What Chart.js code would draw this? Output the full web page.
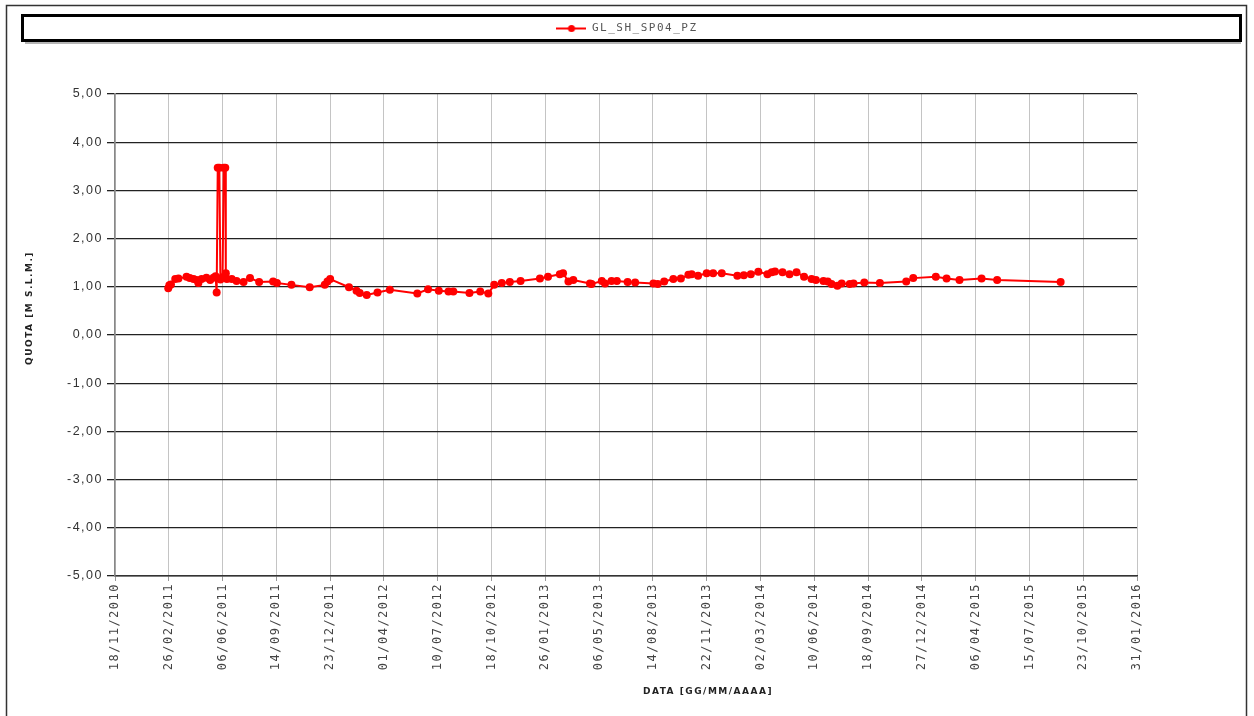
<!DOCTYPE html>
<html>
<head>
<meta charset="utf-8">
<title>GL_SH_SP04_PZ</title>
<script src="https://cdn.jsdelivr.net/npm/chart.js@4.4.1/dist/chart.umd.min.js"></script>
<style>
    html, body { margin: 0; padding: 0; background: #fff; }
    canvas { display: block; }
</style>
</head>
<body>
<canvas id="quotaChart" width="1254" height="716"></canvas>
<script>
// Series and axis data
var seriesName = 'GL_SH_SP04_PZ';
var xTitle = 'DATA [GG/MM/AAAA]';
var yTitle = 'QUOTA [M S.L.M.]';

var dates = [
    '2011-02-25', '2011-02-27', '2011-03-02', '2011-03-10', '2011-03-16', '2011-03-31', '2011-04-06', '2011-04-13',
    '2011-04-19', '2011-04-22', '2011-04-28', '2011-05-07', '2011-05-14', '2011-05-20', '2011-05-24', '2011-05-26',
    '2011-05-28', '2011-05-31', '2011-06-02', '2011-06-06', '2011-06-08', '2011-06-11', '2011-06-12', '2011-06-14',
    '2011-06-23', '2011-07-02', '2011-07-15', '2011-07-27', '2011-08-13', '2011-09-08', '2011-09-15', '2011-10-12',
    '2011-11-15', '2011-12-13', '2011-12-18', '2011-12-23', '2012-01-27', '2012-02-10', '2012-02-16', '2012-02-29',
    '2012-03-20', '2012-04-12', '2012-06-02', '2012-06-22', '2012-07-12', '2012-07-30', '2012-08-08', '2012-09-07',
    '2012-09-27', '2012-10-12', '2012-10-23', '2012-11-06', '2012-11-21', '2012-12-11', '2013-01-16', '2013-01-31',
    '2013-02-22', '2013-02-28', '2013-03-10', '2013-03-19', '2013-04-19', '2013-04-22', '2013-05-11', '2013-05-17',
    '2013-05-29', '2013-06-08', '2013-06-28', '2013-07-12', '2013-08-15', '2013-08-23', '2013-09-04', '2013-09-21',
    '2013-10-05', '2013-10-19', '2013-10-25', '2013-11-06', '2013-11-22', '2013-12-04', '2013-12-20', '2014-01-18',
    '2014-01-30', '2014-02-12', '2014-02-26', '2014-03-15', '2014-03-23', '2014-03-29', '2014-04-12', '2014-04-25',
    '2014-05-08', '2014-05-22', '2014-06-05', '2014-06-13', '2014-06-27', '2014-07-05', '2014-07-12', '2014-07-23',
    '2014-07-31', '2014-08-15', '2014-08-22', '2014-09-11', '2014-10-10', '2014-11-28', '2014-12-11', '2015-01-22',
    '2015-02-11', '2015-03-07', '2015-04-17', '2015-05-16', '2015-09-11'
];

var quota = [
    0.97, 1.03, 1.05, 1.16, 1.17, 1.21, 1.18, 1.16,
    1.14, 1.08, 1.16, 1.19, 1.14, 1.19, 1.22, 0.88,
    3.47, 3.47, 1.15, 1.20, 3.47, 3.47, 1.28, 1.16,
    1.16, 1.12, 1.10, 1.18, 1.10, 1.11, 1.08, 1.04,
    0.99, 1.04, 1.11, 1.16, 0.99, 0.92, 0.87, 0.83,
    0.88, 0.94, 0.86, 0.95, 0.92, 0.90, 0.90, 0.87,
    0.90, 0.86, 1.04, 1.08, 1.10, 1.12, 1.17, 1.21,
    1.26, 1.28, 1.11, 1.14, 1.07, 1.06, 1.12, 1.07,
    1.12, 1.12, 1.10, 1.09, 1.07, 1.06, 1.11, 1.16,
    1.17, 1.25, 1.26, 1.23, 1.28, 1.28, 1.28, 1.23,
    1.24, 1.26, 1.31, 1.26, 1.30, 1.32, 1.30, 1.26,
    1.30, 1.21, 1.16, 1.14, 1.12, 1.11, 1.06, 1.02,
    1.07, 1.06, 1.07, 1.09, 1.08, 1.11, 1.18, 1.21,
    1.17, 1.14, 1.17, 1.14, 1.10
];

var xTickLabels = [
    '18/11/2010', '26/02/2011', '06/06/2011', '14/09/2011', '23/12/2011', '01/04/2012', '10/07/2012',
    '18/10/2012', '26/01/2013', '06/05/2013', '14/08/2013', '22/11/2013', '02/03/2014', '10/06/2014',
    '18/09/2014', '27/12/2014', '06/04/2015', '15/07/2015', '23/10/2015', '31/01/2016'
];

var yTickValues = [-5, -4, -3, -2, -1, 0, 1, 2, 3, 4, 5];

// Day numbers (UTC) so the x axis can be a plain linear scale
function isoToDay(s) {
    var p = s.split('-');
    return Date.UTC(+p[0], +p[1] - 1, +p[2]) / 86400000;
}
function labelToDay(s) {
    var p = s.split('/');
    return Date.UTC(+p[2], +p[1] - 1, +p[0]) / 86400000;
}

var points = dates.map(function(d, i) {
    return { x: isoToDay(d), y: quota[i] };
});

// Legend marker: short red line with a dot
var legendMarker = document.createElement('canvas');
legendMarker.width = 30;
legendMarker.height = 9;
(function() {
    var c = legendMarker.getContext('2d');
    c.strokeStyle = '#ff0000';
    c.lineWidth = 2;
    c.beginPath();
    c.moveTo(0, 4.5);
    c.lineTo(30, 4.5);
    c.stroke();
    c.fillStyle = '#ff0000';
    c.beginPath();
    c.arc(15, 4.5, 3.5, 0, Math.PI * 2);
    c.fill();
})();

// Frames around the page and the legend, axis titles, wide letter spacing
var framePlugin = {
    id: 'frames',
    beforeUpdate: function(chart) {
        chart.ctx.letterSpacing = '1.5px';
    },
    beforeDraw: function(chart) {
        var ctx = chart.ctx;
        ctx.letterSpacing = '1.5px';
        ctx.save();
        ctx.strokeStyle = '#333';
        ctx.lineWidth = 1.5;
        ctx.strokeRect(6.5, 5.5, chart.width - 14, chart.height + 20);
        ctx.fillStyle = '#b5b5b5';
        ctx.fillRect(25, 42, chart.width - 38, 2);
        ctx.strokeStyle = '#000';
        ctx.lineWidth = 3;
        ctx.strokeRect(22.5, 15.5, chart.width - 36, 25);
        ctx.restore();
    },
    afterDraw: function(chart) {
        var ctx = chart.ctx;
        var area = chart.chartArea;
        ctx.save();
        ctx.fillStyle = '#222';
        ctx.font = 'bold 9px "DejaVu Sans"';
        ctx.textAlign = 'center';
        ctx.textBaseline = 'middle';
        ctx.fillText(xTitle, area.left + 593, area.bottom + 116);
        ctx.translate(30, area.top + 214);
        ctx.rotate(-Math.PI / 2);
        ctx.fillText(yTitle, 0, 0);
        ctx.restore();
    }
};

var ctx = document.getElementById('quotaChart');
var quotaChart = new Chart(ctx, {
    type: 'line',
    data: {
        datasets: [{
            label: seriesName,
            data: points,
            borderColor: '#ff0000',
            backgroundColor: '#ff0000',
            borderWidth: 2,
            pointRadius: 4,
            pointHoverRadius: 4,
            pointBorderWidth: 0,
            tension: 0,
            yAxisID: 'y'
        }]
    },
    options: {
        responsive: false,
        animation: false,
        events: [],
        layout: {
            padding: { left: 8, right: 8, top: 15, bottom: 0 }
        },
        scales: {
            x: {
                type: 'linear',
                min: labelToDay(xTickLabels[0]),
                max: labelToDay(xTickLabels[xTickLabels.length - 1]),
                afterBuildTicks: function(scale) {
                    scale.ticks = xTickLabels.map(function(l) { return { value: labelToDay(l) }; });
                },
                afterFit: function(scale) {
                    scale.height = 140;
                },
                ticks: {
                    autoSkip: false,
                    minRotation: 90,
                    maxRotation: 90,
                    padding: 2,
                    color: '#444',
                    font: { family: 'DejaVu Sans Mono', size: 12 },
                    callback: function(value, index) {
                        return xTickLabels[index];
                    }
                },
                grid: {
                    color: '#c4c4c4',
                    lineWidth: 1,
                    tickLength: 5,
                    tickColor: '#999'
                },
                border: {
                    color: '#333',
                    width: 1.5
                }
            },
            y: {
                type: 'linear',
                position: 'left',
                min: yTickValues[0],
                max: yTickValues[yTickValues.length - 1],
                afterBuildTicks: function(scale) {
                    scale.ticks = yTickValues.map(function(v) { return { value: v }; });
                },
                afterFit: function(scale) {
                    scale.width = 107;
                },
                ticks: {
                    padding: 4,
                    color: '#333',
                    font: { family: 'Liberation Sans', size: 12.5 },
                    callback: function(value) {
                        return value.toFixed(2).replace('.', ',');
                    }
                },
                grid: {
                    color: '#222',
                    lineWidth: 1.3,
                    tickLength: 8,
                    tickColor: '#222'
                },
                border: {
                    color: '#888',
                    width: 1.5
                }
            },
            yRight: {
                type: 'linear',
                position: 'right',
                display: true,
                afterFit: function(scale) {
                    scale.width = 109;
                },
                ticks: { display: false },
                grid: { display: false },
                border: { display: false }
            }
        },
        plugins: {
            legend: {
                display: true,
                position: 'top',
                labels: {
                    usePointStyle: true,
                    pointStyle: legendMarker,
                    pointStyleWidth: 30,
                    padding: 8,
                    color: '#555',
                    font: { family: 'DejaVu Sans Mono', size: 11 }
                }
            },
            title: {
                display: true,
                text: '',
                weight: 500,
                font: { size: 10 },
                padding: { top: 19, bottom: 19 }
            },
            tooltip: { enabled: false }
        }
    },
    plugins: [framePlugin]
});
</script>
</body>
</html>
